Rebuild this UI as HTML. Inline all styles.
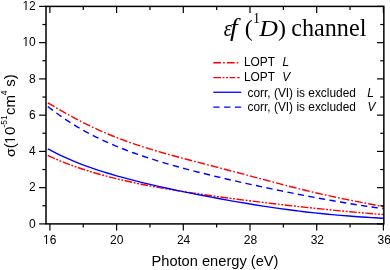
<!DOCTYPE html>
<html><head><meta charset="utf-8"><title>chart</title>
<style>html,body{margin:0;padding:0;background:#fff;}body{width:390px;height:270px;overflow:hidden;font-family:"Liberation Sans",sans-serif;}svg{display:block;will-change:transform;}</style>
</head><body>
<svg width="390" height="270" viewBox="0 0 390 270">
<rect width="390" height="270" fill="#fff"/>
<g fill="none" stroke-width="1.4">
<path d="M47.80,155.45 C49.23,156.09 53.54,158.06 56.41,159.28 C59.28,160.51 62.15,161.67 65.02,162.80 C67.88,163.92 70.75,165.00 73.62,166.03 C76.49,167.06 79.36,168.05 82.23,169.00 C85.10,169.95 87.97,170.86 90.84,171.74 C93.71,172.62 96.58,173.45 99.45,174.27 C102.32,175.08 105.18,175.85 108.05,176.60 C110.92,177.35 113.79,178.07 116.66,178.77 C119.53,179.47 122.40,180.14 125.27,180.79 C128.14,181.44 131.01,182.07 133.88,182.67 C136.75,183.28 139.62,183.87 142.48,184.44 C145.35,185.01 148.22,185.56 151.09,186.10 C153.96,186.64 156.83,187.16 159.70,187.67 C162.57,188.18 165.44,188.68 168.31,189.16 C171.18,189.65 174.05,190.12 176.92,190.58 C179.78,191.05 182.65,191.50 185.52,191.94 C188.39,192.39 191.26,192.82 194.13,193.25 C197.00,193.68 199.87,194.10 202.74,194.51 C205.61,194.92 208.48,195.33 211.35,195.73 C214.22,196.13 217.08,196.52 219.95,196.91 C222.82,197.30 225.69,197.69 228.56,198.07 C231.43,198.44 234.30,198.82 237.17,199.19 C240.04,199.56 242.91,199.93 245.78,200.29 C248.65,200.65 251.52,201.01 254.38,201.36 C257.25,201.72 260.12,202.07 262.99,202.41 C265.86,202.76 268.73,203.10 271.60,203.44 C274.47,203.78 277.34,204.12 280.21,204.45 C283.08,204.78 285.95,205.11 288.82,205.44 C291.68,205.76 294.55,206.08 297.42,206.40 C300.29,206.72 303.16,207.03 306.03,207.34 C308.90,207.65 311.77,207.96 314.64,208.26 C317.51,208.56 320.38,208.86 323.25,209.15 C326.12,209.44 328.98,209.73 331.85,210.01 C334.72,210.29 337.59,210.57 340.46,210.85 C343.33,211.12 346.20,211.39 349.07,211.65 C351.94,211.91 354.81,212.17 357.68,212.42 C360.55,212.67 363.42,212.92 366.28,213.16 C369.15,213.40 372.02,213.64 374.89,213.87 C377.76,214.10 382.07,214.43 383.50,214.54" stroke="#ff0000" stroke-dasharray="7.7 1.57 1.9 1.57 1.9 1.56"/>
<path d="M47.80,148.89 C49.23,149.64 53.54,151.94 56.41,153.36 C59.28,154.78 62.15,156.13 65.02,157.42 C67.88,158.72 70.75,159.95 73.62,161.14 C76.49,162.32 79.36,163.45 82.23,164.54 C85.10,165.63 87.97,166.67 90.84,167.68 C93.71,168.69 96.58,169.65 99.45,170.58 C102.32,171.52 105.18,172.41 108.05,173.28 C110.92,174.15 113.79,174.99 116.66,175.81 C119.53,176.62 122.40,177.41 125.27,178.18 C128.14,178.95 131.01,179.70 133.88,180.43 C136.75,181.16 139.62,181.87 142.48,182.57 C145.35,183.27 148.22,183.94 151.09,184.61 C153.96,185.28 156.83,185.93 159.70,186.58 C162.57,187.22 165.44,187.85 168.31,188.47 C171.18,189.09 174.05,189.71 176.92,190.31 C179.78,190.91 182.65,191.50 185.52,192.09 C188.39,192.68 191.26,193.25 194.13,193.82 C197.00,194.39 199.87,194.96 202.74,195.51 C205.61,196.07 208.48,196.62 211.35,197.16 C214.22,197.70 217.08,198.23 219.95,198.76 C222.82,199.28 225.69,199.80 228.56,200.32 C231.43,200.83 234.30,201.33 237.17,201.83 C240.04,202.33 242.91,202.81 245.78,203.29 C248.65,203.77 251.52,204.25 254.38,204.71 C257.25,205.17 260.12,205.62 262.99,206.07 C265.86,206.51 268.73,206.95 271.60,207.37 C274.47,207.80 277.34,208.21 280.21,208.61 C283.08,209.02 285.95,209.41 288.82,209.79 C291.68,210.17 294.55,210.54 297.42,210.90 C300.29,211.26 303.16,211.61 306.03,211.94 C308.90,212.28 311.77,212.60 314.64,212.91 C317.51,213.22 320.38,213.52 323.25,213.81 C326.12,214.09 328.98,214.37 331.85,214.63 C334.72,214.89 337.59,215.14 340.46,215.38 C343.33,215.62 346.20,215.85 349.07,216.07 C351.94,216.28 354.81,216.49 357.68,216.69 C360.55,216.88 363.42,217.07 366.28,217.25 C369.15,217.43 372.02,217.59 374.89,217.76 C377.76,217.92 382.07,218.15 383.50,218.23" stroke="#0000ff"/>
<path d="M47.80,106.45 C49.23,107.55 53.54,110.93 56.41,113.03 C59.28,115.13 62.15,117.13 65.02,119.06 C67.88,120.98 70.75,122.82 73.62,124.58 C76.49,126.35 79.36,128.04 82.23,129.66 C85.10,131.29 87.97,132.84 90.84,134.34 C93.71,135.83 96.58,137.26 99.45,138.65 C102.32,140.03 105.18,141.35 108.05,142.63 C110.92,143.91 113.79,145.14 116.66,146.33 C119.53,147.52 122.40,148.66 125.27,149.77 C128.14,150.88 131.01,151.94 133.88,152.98 C136.75,154.02 139.62,155.02 142.48,155.99 C145.35,156.97 148.22,157.91 151.09,158.83 C153.96,159.75 156.83,160.65 159.70,161.52 C162.57,162.39 165.44,163.24 168.31,164.07 C171.18,164.90 174.05,165.71 176.92,166.51 C179.78,167.30 182.65,168.08 185.52,168.85 C188.39,169.61 191.26,170.36 194.13,171.10 C197.00,171.84 199.87,172.56 202.74,173.28 C205.61,173.99 208.48,174.69 211.35,175.39 C214.22,176.08 217.08,176.77 219.95,177.44 C222.82,178.12 225.69,178.79 228.56,179.45 C231.43,180.11 234.30,180.76 237.17,181.41 C240.04,182.06 242.91,182.70 245.78,183.33 C248.65,183.97 251.52,184.59 254.38,185.22 C257.25,185.84 260.12,186.46 262.99,187.07 C265.86,187.68 268.73,188.28 271.60,188.88 C274.47,189.48 277.34,190.07 280.21,190.66 C283.08,191.25 285.95,191.83 288.82,192.40 C291.68,192.98 294.55,193.55 297.42,194.11 C300.29,194.67 303.16,195.23 306.03,195.78 C308.90,196.33 311.77,196.87 314.64,197.41 C317.51,197.94 320.38,198.47 323.25,198.99 C326.12,199.51 328.98,200.03 331.85,200.53 C334.72,201.04 337.59,201.54 340.46,202.03 C343.33,202.51 346.20,203.00 349.07,203.47 C351.94,203.94 354.81,204.40 357.68,204.86 C360.55,205.31 363.42,205.76 366.28,206.20 C369.15,206.63 372.02,207.06 374.89,207.48 C377.76,207.90 382.07,208.50 383.50,208.70" stroke="#0000ff" stroke-dasharray="6.35 4.35"/>
<path d="M47.80,102.78 C49.23,103.62 53.54,106.19 56.41,107.86 C59.28,109.53 62.15,111.18 65.02,112.79 C67.88,114.40 70.75,115.99 73.62,117.53 C76.49,119.07 79.36,120.58 82.23,122.04 C85.10,123.50 87.97,124.92 90.84,126.29 C93.71,127.67 96.58,129.00 99.45,130.29 C102.32,131.57 105.18,132.82 108.05,134.02 C110.92,135.23 113.79,136.39 116.66,137.51 C119.53,138.63 122.40,139.71 125.27,140.76 C128.14,141.81 131.01,142.82 133.88,143.80 C136.75,144.78 139.62,145.73 142.48,146.65 C145.35,147.58 148.22,148.47 151.09,149.34 C153.96,150.21 156.83,151.06 159.70,151.89 C162.57,152.73 165.44,153.54 168.31,154.34 C171.18,155.14 174.05,155.92 176.92,156.70 C179.78,157.48 182.65,158.24 185.52,159.00 C188.39,159.76 191.26,160.51 194.13,161.26 C197.00,162.01 199.87,162.76 202.74,163.51 C205.61,164.25 208.48,165.00 211.35,165.74 C214.22,166.49 217.08,167.24 219.95,167.99 C222.82,168.74 225.69,169.49 228.56,170.24 C231.43,171.00 234.30,171.75 237.17,172.51 C240.04,173.27 242.91,174.03 245.78,174.80 C248.65,175.56 251.52,176.33 254.38,177.09 C257.25,177.86 260.12,178.62 262.99,179.39 C265.86,180.15 268.73,180.92 271.60,181.68 C274.47,182.43 277.34,183.19 280.21,183.94 C283.08,184.69 285.95,185.44 288.82,186.18 C291.68,186.91 294.55,187.65 297.42,188.36 C300.29,189.08 303.16,189.79 306.03,190.49 C308.90,191.19 311.77,191.87 314.64,192.54 C317.51,193.21 320.38,193.87 323.25,194.52 C326.12,195.16 328.98,195.79 331.85,196.41 C334.72,197.02 337.59,197.62 340.46,198.22 C343.33,198.81 346.20,199.38 349.07,199.96 C351.94,200.53 354.81,201.08 357.68,201.64 C360.55,202.20 363.42,202.75 366.28,203.32 C369.15,203.88 372.02,204.43 374.89,205.02 C377.76,205.60 382.07,206.51 383.50,206.80" stroke="#ff0000" stroke-dasharray="7.7 2.05 1.7 2.05"/>
</g>
<g stroke="#000" stroke-width="1.5" fill="none">
<rect x="46.00" y="6.40" width="337.85" height="217.50"/>
</g>
<g stroke="#000" stroke-width="1.2" fill="none">
<line x1="49.90" y1="223.90" x2="49.90" y2="230.60"/>
<line x1="49.90" y1="6.40" x2="49.90" y2="13.10"/>
<line x1="83.25" y1="223.90" x2="83.25" y2="227.40"/>
<line x1="83.25" y1="6.40" x2="83.25" y2="9.90"/>
<line x1="116.60" y1="223.90" x2="116.60" y2="230.60"/>
<line x1="116.60" y1="6.40" x2="116.60" y2="13.10"/>
<line x1="149.95" y1="223.90" x2="149.95" y2="227.40"/>
<line x1="149.95" y1="6.40" x2="149.95" y2="9.90"/>
<line x1="183.30" y1="223.90" x2="183.30" y2="230.60"/>
<line x1="183.30" y1="6.40" x2="183.30" y2="13.10"/>
<line x1="216.65" y1="223.90" x2="216.65" y2="227.40"/>
<line x1="216.65" y1="6.40" x2="216.65" y2="9.90"/>
<line x1="250.00" y1="223.90" x2="250.00" y2="230.60"/>
<line x1="250.00" y1="6.40" x2="250.00" y2="13.10"/>
<line x1="283.35" y1="223.90" x2="283.35" y2="227.40"/>
<line x1="283.35" y1="6.40" x2="283.35" y2="9.90"/>
<line x1="316.70" y1="223.90" x2="316.70" y2="230.60"/>
<line x1="316.70" y1="6.40" x2="316.70" y2="13.10"/>
<line x1="350.05" y1="223.90" x2="350.05" y2="227.40"/>
<line x1="350.05" y1="6.40" x2="350.05" y2="9.90"/>
<line x1="383.40" y1="223.90" x2="383.40" y2="230.60"/>
<line x1="383.40" y1="6.40" x2="383.40" y2="13.10"/>
<line x1="39.10" y1="223.90" x2="46.00" y2="223.90"/>
<line x1="376.95" y1="223.90" x2="383.85" y2="223.90"/>
<line x1="42.40" y1="205.78" x2="46.00" y2="205.78"/>
<line x1="380.25" y1="205.78" x2="383.85" y2="205.78"/>
<line x1="39.10" y1="187.65" x2="46.00" y2="187.65"/>
<line x1="376.95" y1="187.65" x2="383.85" y2="187.65"/>
<line x1="42.40" y1="169.53" x2="46.00" y2="169.53"/>
<line x1="380.25" y1="169.53" x2="383.85" y2="169.53"/>
<line x1="39.10" y1="151.40" x2="46.00" y2="151.40"/>
<line x1="376.95" y1="151.40" x2="383.85" y2="151.40"/>
<line x1="42.40" y1="133.28" x2="46.00" y2="133.28"/>
<line x1="380.25" y1="133.28" x2="383.85" y2="133.28"/>
<line x1="39.10" y1="115.15" x2="46.00" y2="115.15"/>
<line x1="376.95" y1="115.15" x2="383.85" y2="115.15"/>
<line x1="42.40" y1="97.03" x2="46.00" y2="97.03"/>
<line x1="380.25" y1="97.03" x2="383.85" y2="97.03"/>
<line x1="39.10" y1="78.90" x2="46.00" y2="78.90"/>
<line x1="376.95" y1="78.90" x2="383.85" y2="78.90"/>
<line x1="42.40" y1="60.78" x2="46.00" y2="60.78"/>
<line x1="380.25" y1="60.78" x2="383.85" y2="60.78"/>
<line x1="39.10" y1="42.65" x2="46.00" y2="42.65"/>
<line x1="376.95" y1="42.65" x2="383.85" y2="42.65"/>
<line x1="42.40" y1="24.53" x2="46.00" y2="24.53"/>
<line x1="380.25" y1="24.53" x2="383.85" y2="24.53"/>
<line x1="39.10" y1="6.40" x2="46.00" y2="6.40"/>
<line x1="376.95" y1="6.40" x2="383.85" y2="6.40"/>
</g>
<g font-family="Liberation Sans, sans-serif" font-size="12" fill="#000">
<text x="49.80" y="243.5" text-anchor="middle">16</text>
<text x="116.68" y="243.5" text-anchor="middle">20</text>
<text x="183.56" y="243.5" text-anchor="middle">24</text>
<text x="250.44" y="243.5" text-anchor="middle">28</text>
<text x="317.32" y="243.5" text-anchor="middle">32</text>
<text x="384.20" y="243.5" text-anchor="middle">36</text>
<text x="35.8" y="227.60" text-anchor="end">0</text>
<text x="35.8" y="191.35" text-anchor="end">2</text>
<text x="35.8" y="155.10" text-anchor="end">4</text>
<text x="35.8" y="118.85" text-anchor="end">6</text>
<text x="35.8" y="82.60" text-anchor="end">8</text>
<text x="35.8" y="46.35" text-anchor="end">10</text>
<text x="35.8" y="10.10" text-anchor="end">12</text>
</g>
<g stroke="none">
<rect x="22.5" y="9" width="6.5" height="1" fill="#fff"/><rect x="25.48" y="9" width="1.08" height="1" fill="#000"/>
<rect x="22.5" y="45" width="6.5" height="1" fill="#fff"/><rect x="25.48" y="45" width="1.08" height="1" fill="#000"/>
<rect x="42.5" y="243" width="7" height="1" fill="#fff"/><rect x="46.0" y="243" width="1.06" height="1" fill="#000"/>
</g>
<text x="151.5" y="265.9" font-family="Liberation Sans, sans-serif" font-size="14.65" fill="#000">Photon energy (eV)</text>
<g transform="translate(15,156.5) rotate(-90)" font-family="Liberation Sans, sans-serif" font-size="15" fill="#000">
<text transform="translate(8.22,0) scale(0.945,0.86)" text-anchor="end">σ</text>
<text x="8.17" y="0">(</text>
<text x="12.47" y="0">1</text>
<text x="21.41" y="0">0</text>
<text x="29.06" y="-8" font-size="8.5">-</text>
<text x="31.74" y="-8" font-size="8.5">51</text>
<text x="41.41" y="0">cm</text>
<text x="61.16" y="-8" font-size="8.5">4</text>
<text x="69.81" y="0">s)</text>
</g>
<g stroke="none"><rect x="13" y="135.8" width="2.3" height="3.2" fill="#fff"/><rect x="13" y="140.3" width="2.3" height="2.7" fill="#fff"/></g>
<g font-family="Liberation Serif, serif" font-size="24" fill="#000">
<text transform="translate(223.8,35.7) scale(0.86,1)" font-style="italic">ε</text>
<text transform="translate(235.2,35.7) scale(1.15,1.03)" x="-4.6" y="0" font-style="italic">f</text>
<text x="244.8" y="35.7">(</text>
<text x="253" y="23.3" font-size="14">1</text>
<text transform="translate(259.2,35.7) scale(1.08,1)" font-style="italic">D</text>
<text x="278.0" y="35.7">)</text>
<text x="291.3" y="35.7" font-size="24.15">channel</text>
</g>
<g fill="none" stroke-width="1.4">
<line x1="213.3" y1="62.7" x2="238.2" y2="62.7" stroke="#ff0000" stroke-dasharray="7.7 2.1 1.7 2.1"/>
<line x1="213.3" y1="77.6" x2="239.7" y2="77.6" stroke="#ff0000" stroke-dasharray="7.7 1.6 1.9 1.6 1.9 1.6 5.7 1.9 2.5"/>
<line x1="213.3" y1="92.25" x2="241.3" y2="92.25" stroke="#0000ff" stroke-width="1.3"/>
<line x1="213.3" y1="107.1" x2="241.3" y2="107.1" stroke="#0000ff" stroke-dasharray="6.3 4.5"/>
</g>
<g font-family="Liberation Sans, sans-serif" font-size="11.9" fill="#000">
<text x="243.9" y="66.45">LOPT</text><text x="282.5" y="66.45" font-style="italic">L</text>
<text x="243.9" y="80.8">LOPT</text><text x="282.3" y="80.8" font-style="italic">V</text>
<text x="247.5" y="96.5">corr, (VI) is excluded</text><text x="367.2" y="96.5" font-style="italic">L</text>
<text x="247.5" y="110.8">corr, (VI) is excluded</text><text x="367.5" y="110.8" font-style="italic">V</text>
</g>
</svg>
</body></html>
